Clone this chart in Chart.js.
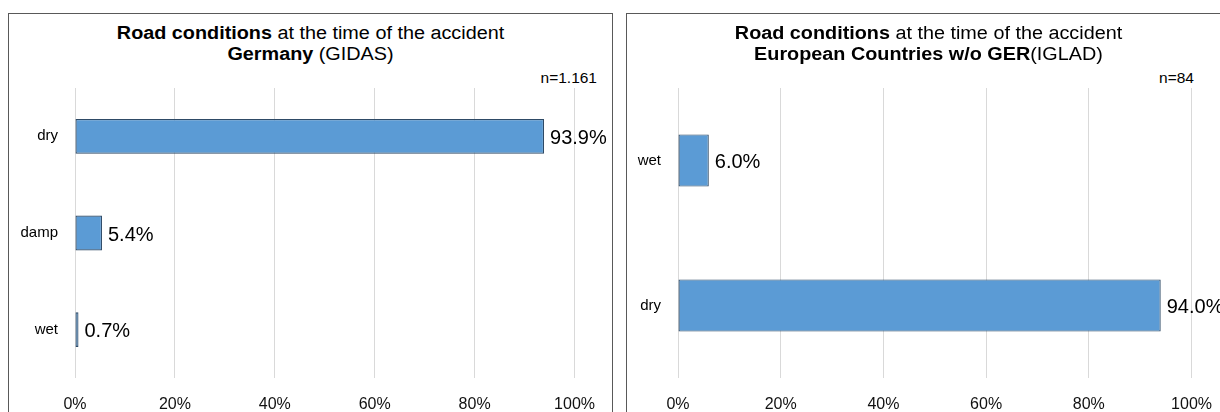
<!DOCTYPE html>
<html>
<head>
<meta charset="utf-8">
<script src="https://cdn.jsdelivr.net/npm/chart.js@4"></script>
<style>
    body { margin: 0; width: 1220px; height: 412px; overflow: hidden; background: #fff; font-family: "Liberation Sans", Arial, sans-serif; position: relative; }
    .panel { position: absolute; top: 13px; height: 420px; border: 1px solid #595959; box-sizing: border-box; }
    .panel canvas { position: absolute; top: 0; left: 0; }
    .title { position: absolute; left: 0; width: 603px; text-align: center; font-size: 18px; color: #000; line-height: 21px; transform: scaleX(1.1); }
    .n { position: absolute; font-size: 15.5px; color: #000; }
</style>
</head>
<body>
<div class="panel" id="p1" style="left:8px; width:605px;">
    <div class="title" style="top:9px;"><b>Road conditions</b> at the time of the accident<br><b>Germany</b> (GIDAS)</div>
    <div class="n" style="top:55px; right:15px;">n=1.161</div>
    <canvas id="chart_gidas"></canvas>
</div>
<div class="panel" id="p2" style="left:626px; width:620px;">
    <div class="title" style="top:9px;"><b>Road conditions</b> at the time of the accident<br><b>European Countries w/o GER</b>(IGLAD)</div>
    <div class="n" style="top:55px; right:51px;">n=84</div>
    <canvas id="chart_iglad"></canvas>
</div>
<script>
// GIDAS (Germany)
const gidas_labels = ["dry", "damp", "wet"];
const gidas_values = [93.9, 5.4, 0.7];

// IGLAD (European countries without Germany)
const iglad_labels = ["wet", "dry"];
const iglad_values = [6.0, 94.0];

const x_ticks = [0, 20, 40, 60, 80, 100];

// writes "93.9%" etc. to the right of each bar
const value_labels = {
    id: "value_labels",
    afterDatasetsDraw(chart) {
        const ctx = chart.ctx;
        const meta = chart.getDatasetMeta(0);
        ctx.save();
        ctx.font = "20px 'Liberation Sans', Arial, sans-serif";
        ctx.fillStyle = "#000";
        ctx.textBaseline = "middle";
        meta.data.forEach((bar, i) => {
            const v = chart.data.datasets[0].data[i];
            ctx.fillText(v.toFixed(1) + "%", bar.x + 6, bar.y + 2);
        });
        ctx.restore();
    }
};

function print_chart(id, labels, values, y_width, width, height)
{
    const canvas = document.getElementById(id);
    canvas.width = width;
    canvas.height = height;
    return new Chart(canvas, {
        type: "bar",
        data: {
            labels: labels,
            datasets: [{
                data: values,
                backgroundColor: "#5b9bd5",
                borderColor: "#2e4a66",
                borderWidth: 1.2,
                borderSkipped: false,
                categoryPercentage: 1,
                barPercentage: 0.36
            }]
        },
        options: {
            indexAxis: "y",
            responsive: false,
            animation: false,
            layout: { padding: { top: 74, right: 36, left: 0, bottom: 0 } },
            plugins: { legend: { display: false }, tooltip: { enabled: false }, title: { display: false } },
            scales: {
                x: {
                    min: 0,
                    max: 100,
                    afterBuildTicks(scale) { scale.ticks = x_ticks.map(v => ({ value: v })); },
                    afterFit(scale) { scale.height = 34; },
                    grid: { color: "#d9d9d9", lineWidth: 1, drawTicks: false },
                    border: { display: false },
                    ticks: {
                        padding: 17,
                        color: "#111",
                        font: { family: "'Liberation Sans', Arial, sans-serif", size: 16 },
                        callback: v => v + "%"
                    }
                },
                y: {
                    afterFit(scale) { scale.width = y_width; },
                    grid: { display: false, drawTicks: false },
                    border: { display: false },
                    ticks: {
                        padding: 17,
                        color: "#000",
                        font: { family: "'Liberation Sans', Arial, sans-serif", size: 15 }
                    }
                }
            }
        },
        plugins: [value_labels]
    });
}

print_chart("chart_gidas", gidas_labels, gidas_values, 66, 603, 398);
print_chart("chart_iglad", iglad_labels, iglad_values, 51, 602, 398);
</script>
</body>
</html>
